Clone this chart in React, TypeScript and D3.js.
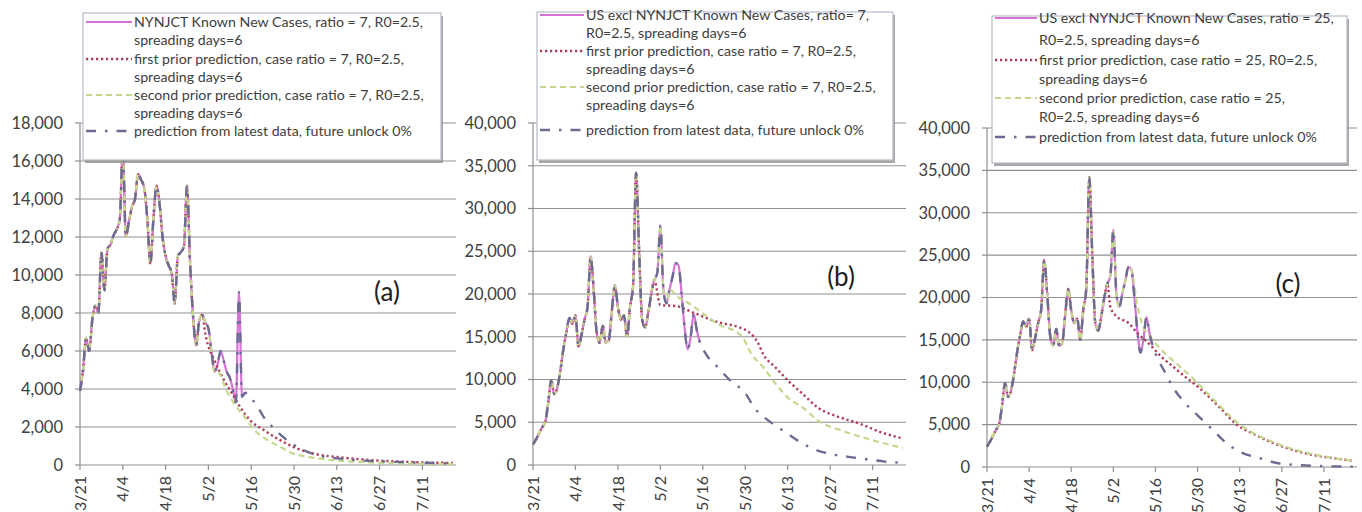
import React from "react";
import * as d3 from "d3";

// ---- calendar -------------------------------------------------------------
const YEAR = "2020";
const firstDay = "3/21";
const lastDay = "7/22";
const xTickLabels = ["3/21", "4/4", "4/18", "5/2", "5/16", "5/30", "6/13", "6/27", "7/11"];

// ---- reported daily new cases, one value per day starting 3/21 ------------
const nyReported = [
  3900, 5000, 6700, 6000, 7600, 8400, 8000, 11200, 9200, 11400,
  11600, 12100, 12400, 12900, 16600, 12000, 12800, 13600, 14000, 15300,
  15000, 14600, 13000, 10600, 12900, 14700, 13800, 12000, 11000, 10500,
  10100, 8500, 11000, 11200, 11500, 14700, 10700, 7800, 6300, 7600,
  7900, 7500, 7200, 6000, 4900, 5300, 6000, 5500, 4900, 4600,
  4000, 3300, 9100, 3600, 3800,
];

const usReported = [
  2400, 3000, 3700, 4400, 5000, 7200, 9900, 8300, 9000, 11000,
  13500, 15500, 17200, 16500, 17500, 13800, 15200, 17000, 18500, 24400,
  20500, 15500, 14300, 16300, 14300, 14600, 18000, 21000, 18500, 17000,
  17500, 15000, 18500, 21000, 34200, 25000, 17000, 16100, 17800, 20000,
  21600, 22500, 28000, 20500, 18900, 20500, 22000, 23600, 23300, 20000,
  16000, 13500, 15000, 17700, 15800, 14400,
];

// ---- forecasts: reported values are followed through the given date -------
type Point = [string, number];

const nyFirstPriorThrough = "4/30";
const nyFirstPrior: Point[] = [
  ["5/1", 6900], ["5/4", 5500], ["5/7", 4500], ["5/10", 3700], ["5/13", 2900],
  ["5/16", 2300], ["5/20", 1850], ["5/25", 1350], ["5/31", 870], ["6/6", 580],
  ["6/13", 420], ["6/20", 310], ["6/27", 230], ["7/5", 170], ["7/13", 130], ["7/21", 110],
];
const nySecondPriorThrough = "5/4";
const nySecondPrior: Point[] = [
  ["5/5", 4900], ["5/8", 3900], ["5/11", 3100], ["5/14", 2500], ["5/17", 1850],
  ["5/21", 1350], ["5/25", 1000], ["5/29", 650], ["6/6", 370], ["6/13", 230],
  ["6/20", 160], ["6/27", 110], ["7/5", 80], ["7/13", 60], ["7/21", 50],
];
const nyLatest: Point[] = [
  ["5/16", 3500], ["5/18", 3100], ["5/20", 2550], ["5/23", 2000], ["5/27", 1400],
  ["6/1", 880], ["6/7", 500], ["6/13", 350], ["6/20", 250], ["6/27", 190],
  ["7/5", 150], ["7/13", 110], ["7/21", 90],
];

const usFirstPriorThrough = "4/30";
const usFirstPrior7: Point[] = [
  ["5/2", 18700], ["5/7", 18600], ["5/13", 17800], ["5/21", 16700], ["5/28", 16100],
  ["5/31", 15600], ["6/3", 14400], ["6/5", 12900], ["6/9", 11400], ["6/13", 9900],
  ["6/18", 8300], ["6/23", 6700], ["6/30", 5600], ["7/7", 4800], ["7/14", 3800], ["7/21", 3100],
];
const usSecondPrior7Through = "5/5";
const usSecondPrior7: Point[] = [
  ["5/8", 19600], ["5/11", 19000], ["5/15", 18000], ["5/22", 16300], ["5/27", 15600],
  ["5/29", 15000], ["6/1", 13000], ["6/5", 11400], ["6/9", 9500], ["6/13", 7900],
  ["6/18", 6700], ["6/23", 5200], ["7/1", 4000], ["7/8", 3200], ["7/14", 2600], ["7/21", 2000],
];
const usLatest7: Point[] = [
  ["5/17", 13000], ["5/21", 11400], ["5/25", 9900], ["5/30", 8400], ["6/2", 6700],
  ["6/7", 5100], ["6/12", 3900], ["6/17", 2700], ["6/22", 1800], ["6/27", 1300],
  ["7/3", 950], ["7/9", 680], ["7/15", 400], ["7/21", 250],
];

const usFirstPrior25: Point[] = [
  ["5/1", 18900], ["5/3", 17800], ["5/7", 17000], ["5/10", 15800], ["5/14", 14500],
  ["5/18", 13000], ["5/22", 11800], ["5/26", 10600], ["5/30", 9500], ["6/3", 8200],
  ["6/7", 6800], ["6/12", 5000], ["6/17", 4000], ["6/23", 3000], ["6/29", 2200],
  ["7/5", 1600], ["7/11", 1200], ["7/17", 900], ["7/21", 700],
];
const usSecondPrior25Through = "5/8";
const usSecondPrior25: Point[] = [
  ["5/10", 19000], ["5/12", 16500], ["5/14", 15500], ["5/18", 13800], ["5/23", 12200],
  ["5/28", 10600], ["6/2", 8800], ["6/7", 7000], ["6/12", 5300], ["6/17", 4100],
  ["6/23", 3100], ["6/29", 2300], ["7/5", 1700], ["7/11", 1250], ["7/17", 900], ["7/21", 700],
];
const usLatest25: Point[] = [
  ["5/17", 12600], ["5/19", 11300], ["5/22", 9300], ["5/26", 7500], ["5/30", 6100],
  ["6/4", 4400], ["6/8", 3000], ["6/13", 1800], ["6/20", 1000], ["6/25", 500],
  ["7/2", 240], ["7/9", 120], ["7/21", 40],
];

// ---- legend texts ---------------------------------------------------------
const legendA = [
  "NYNJCT Known New Cases, ratio = 7, R0=2.5,",
  "spreading days=6",
  "first prior prediction, case ratio = 7, R0=2.5,",
  "spreading days=6",
  "second prior prediction, case ratio = 7, R0=2.5,",
  "spreading days=6",
  "prediction from latest data, future unlock 0%",
];
const legendB = [
  "US excl NYNJCT Known New Cases, ratio= 7,",
  "R0=2.5, spreading days=6",
  "first prior prediction, case ratio = 7, R0=2.5,",
  "spreading days=6",
  "second prior prediction, case ratio = 7, R0=2.5,",
  "spreading days=6",
  "prediction from latest data, future unlock 0%",
];
const legendC = [
  "US excl NYNJCT Known New Cases, ratio = 25,",
  "R0=2.5, spreading days=6",
  "first prior prediction, case ratio = 25, R0=2.5,",
  "spreading days=6",
  "second prior prediction, case ratio = 25,",
  "R0=2.5, spreading days=6",
  "prediction from latest data, future unlock 0%",
];

// ---- helpers --------------------------------------------------------------
const parseDay = (s: string) => d3.timeParse("%m/%d/%Y")(`${s}/${YEAR}`) as Date;
const start = parseDay(firstDay);

type Datum = { date: Date; value: number };

function reportedSeries(values: number[]): Datum[] {
  return values.map((v, i) => ({ date: d3.timeDay.offset(start, i), value: v }));
}

// reported values up to `through`, then the forecast points
function forecastSeries(values: number[], through: string, forecast: Point[]): Datum[] {
  const n = d3.timeDay.count(start, parseDay(through));
  const hist = reportedSeries(values).slice(0, n + 1);
  return hist.concat(forecast.map(([d, v]) => ({ date: parseDay(d), value: v })));
}

const lastReported = (values: number[]) => d3.timeFormat("%-m/%-d")(d3.timeDay.offset(start, values.length - 1));

// ---- styles ---------------------------------------------------------------
const FONT = "Lato, 'Open Sans', sans-serif";
const TEXT = "#404040";
const GRID = "#8f8f8f";

const styles = {
  reported: { stroke: "#d672d6", width: 2.2, dash: "" },
  first: { stroke: "#b03a55", width: 2.4, dash: "2.2,2.8" },
  second: { stroke: "#c4d88c", width: 2.2, dash: "6,4" },
  latest: { stroke: "#6c6c92", width: 2.4, dash: "10,9,2.5,9" },
};

type PanelSpec = {
  id: string;
  left: number;
  right: number;
  top: number;
  bottom: number;
  yMax: number;
  yStep: number;
  series: { kind: keyof typeof styles; data: Datum[] }[];
  legend: string[];
  legendBox: { x: number; y: number; w: number; h: number };
  legendTextX: number;
  legendRows: number[];
  label: string;
  labelPos: [number, number];
};

const panels: PanelSpec[] = [
  {
    id: "a",
    left: 80, right: 456, top: 123, bottom: 465,
    yMax: 18000, yStep: 2000,
    series: [
      { kind: "reported", data: reportedSeries(nyReported) },
      { kind: "first", data: forecastSeries(nyReported, nyFirstPriorThrough, nyFirstPrior) },
      { kind: "second", data: forecastSeries(nyReported, nySecondPriorThrough, nySecondPrior) },
      { kind: "latest", data: forecastSeries(nyReported, lastReported(nyReported), nyLatest) },
    ],
    legend: legendA,
    legendBox: { x: 83, y: 13, w: 358, h: 147 },
    legendTextX: 134,
    legendRows: [22, 40, 59, 77, 95, 113, 131],
    label: "(a)",
    labelPos: [387, 292],
  },
  {
    id: "b",
    left: 533, right: 906, top: 123, bottom: 465,
    yMax: 40000, yStep: 5000,
    series: [
      { kind: "reported", data: reportedSeries(usReported) },
      { kind: "first", data: forecastSeries(usReported, usFirstPriorThrough, usFirstPrior7) },
      { kind: "second", data: forecastSeries(usReported, usSecondPrior7Through, usSecondPrior7) },
      { kind: "latest", data: forecastSeries(usReported, lastReported(usReported), usLatest7) },
    ],
    legend: legendB,
    legendBox: { x: 537, y: 12, w: 356, h: 148 },
    legendTextX: 586,
    legendRows: [15, 33, 51, 69, 87, 105, 130],
    label: "(b)",
    labelPos: [841, 277],
  },
  {
    id: "c",
    left: 987, right: 1357, top: 128, bottom: 467,
    yMax: 40000, yStep: 5000,
    series: [
      { kind: "reported", data: reportedSeries(usReported) },
      { kind: "first", data: forecastSeries(usReported, usFirstPriorThrough, usFirstPrior25) },
      { kind: "second", data: forecastSeries(usReported, usSecondPrior25Through, usSecondPrior25) },
      { kind: "latest", data: forecastSeries(usReported, lastReported(usReported), usLatest25) },
    ],
    legend: legendC,
    legendBox: { x: 992, y: 16, w: 355, h: 147 },
    legendTextX: 1039,
    legendRows: [18, 40, 60, 79, 98, 117, 137],
    label: "(c)",
    labelPos: [1288, 284],
  },
];

const legendOrder: (keyof typeof styles)[] = ["reported", "first", "second", "latest"];
const legendSymbolRow = [0, 2, 4, 6];

function Panel({ p }: { p: PanelSpec }) {
  const x = d3.scaleTime().domain([parseDay(firstDay), parseDay(lastDay)]).range([p.left, p.right]);
  const y = d3.scaleLinear().domain([0, p.yMax]).range([p.bottom, p.top]);
  const yTicks = d3.range(0, p.yMax + 1, p.yStep);
  const fmt = d3.format(",");
  const line = d3
    .line<Datum>()
    .x((d) => x(d.date))
    .y((d) => y(d.value))
    .curve(d3.curveMonotoneX);

  const lb = p.legendBox;
  return (
    <g>
      {/* gridlines and y axis */}
      {yTicks.map((t) => (
        <g key={t}>
          {t > 0 && <line x1={p.left} x2={p.right} y1={y(t)} y2={y(t)} stroke={GRID} strokeWidth={1.2} />}
          <line x1={p.left - 5} x2={p.left} y1={y(t)} y2={y(t)} stroke={GRID} strokeWidth={1.2} />
          <text x={p.left - 17} y={y(t)} dy="0.35em" textAnchor="end" fontSize={16.5} fill={TEXT}>
            {fmt(t)}
          </text>
        </g>
      ))}
      <line x1={p.left} x2={p.left} y1={p.top} y2={p.bottom} stroke={GRID} strokeWidth={1.2} />
      <line x1={p.left} x2={p.right} y1={p.bottom} y2={p.bottom} stroke={GRID} strokeWidth={1.2} />
      {/* x axis */}
      {xTickLabels.map((s) => {
        const xx = x(parseDay(s));
        return (
          <g key={s}>
            <line x1={xx} x2={xx} y1={p.bottom} y2={p.bottom + 5} stroke={GRID} strokeWidth={1.2} />
            <text
              transform={`translate(${xx},${p.bottom + 11}) rotate(-90)`}
              textAnchor="end"
              dy="0.35em"
              fontSize={16}
              fill={TEXT}
            >
              {s}
            </text>
          </g>
        );
      })}
      {/* series */}
      {p.series.map((s) => {
        const st = styles[s.kind];
        return (
          <path
            key={s.kind}
            d={line(s.data) ?? ""}
            fill="none"
            stroke={st.stroke}
            strokeWidth={st.width}
            strokeDasharray={st.dash || undefined}
            strokeLinejoin="round"
          />
        );
      })}
      {/* panel label */}
      <text x={p.labelPos[0]} y={p.labelPos[1]} dy="0.35em" textAnchor="middle" fontSize={26} fill="#202020">
        {p.label}
      </text>
      {/* legend */}
      <rect x={lb.x + 2} y={lb.y + 3} width={lb.w} height={lb.h} fill="#8a8a8a" opacity={0.75} />
      <rect x={lb.x} y={lb.y} width={lb.w} height={lb.h} fill="#fff" stroke="#b4bccb" strokeWidth={1.2} />
      {p.legend.map((t, i) => (
        <text key={i} x={p.legendTextX} y={p.legendRows[i]} dy="0.35em" fontSize={14.2} fill={TEXT}>
          {t}
        </text>
      ))}
      {legendOrder.map((k, i) => {
        const st = styles[k];
        const yy = p.legendRows[legendSymbolRow[i]];
        return (
          <line
            key={k}
            x1={lb.x + 3}
            x2={p.legendTextX - 2}
            y1={yy}
            y2={yy}
            stroke={st.stroke}
            strokeWidth={st.width}
            strokeDasharray={st.dash || undefined}
          />
        );
      })}
    </g>
  );
}

export default function App() {
  return (
    <svg
      width={1362}
      height={512}
      style={{ position: "absolute", left: 0, top: 0, background: "#fff" }}
      fontFamily={FONT}
    >
      {panels.map((p) => (
        <Panel key={p.id} p={p} />
      ))}
    </svg>
  );
}
